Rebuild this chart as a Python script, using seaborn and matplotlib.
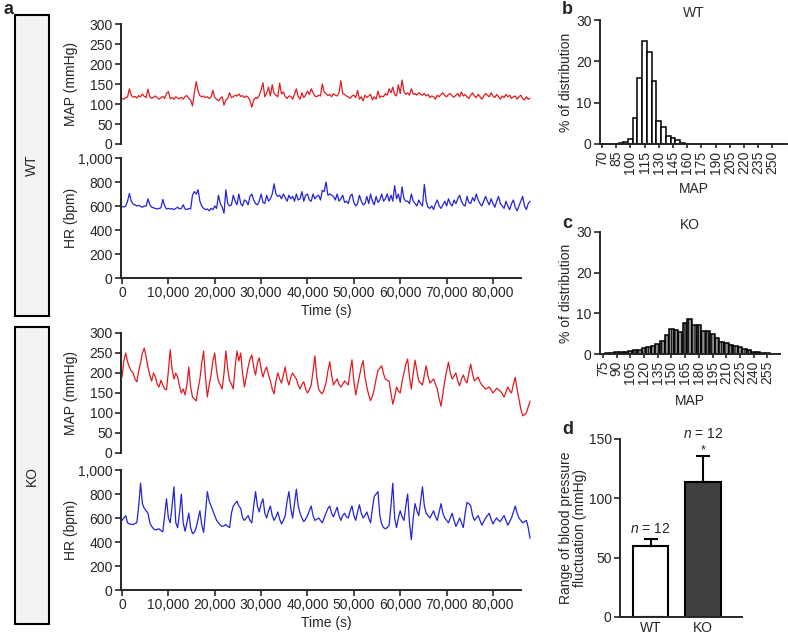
import numpy as np
import pandas as pd
import matplotlib
matplotlib.use('Agg')
import matplotlib.pyplot as plt
import seaborn as sns
from matplotlib.patches import Rectangle

# ---- data ----
# telemetry traces, one sample every ~400 s over 24 h
wt_map = [113, 112, 116, 118, 138, 122, 117, 119, 115, 121, 118, 125, 119, 116, 137, 118, 114, 117, 120, 116,
          112, 115, 119, 114, 126, 131, 113, 116, 112, 118, 115, 113, 117, 112, 119, 121, 114, 110, 95, 128,
          156, 132, 121, 118, 120, 116, 118, 114, 117, 134, 116, 112, 108, 114, 118, 97, 110, 114, 128, 116,
          118, 122, 120, 125, 119, 121, 116, 120, 117, 108, 92, 110, 116, 114, 122, 135, 153, 118, 128, 142,
          120, 148, 126, 122, 118, 152, 125, 130, 118, 114, 120, 119, 112, 124, 138, 118, 112, 128, 116, 122,
          132, 124, 138, 128, 120, 118, 122, 120, 150, 130, 126, 121, 124, 118, 126, 122, 120, 128, 158, 126,
          124, 120, 118, 114, 120, 122, 116, 134, 112, 118, 108, 122, 116, 120, 124, 110, 118, 112, 132, 116,
          120, 118, 126, 122, 138, 128, 142, 124, 120, 148, 126, 160, 132, 124, 128, 122, 138, 124, 126, 122,
          128, 124, 122, 126, 120, 124, 116, 120, 118, 112, 122, 118, 124, 128, 121, 118, 124, 126, 120, 117,
          122, 126, 118, 130, 120, 124, 118, 114, 122, 128, 120, 116, 124, 118, 112, 120, 126, 122, 118, 128,
          120, 116, 124, 118, 112, 120, 116, 124, 118, 122, 114, 118, 120, 112, 118, 122, 114, 110, 118, 112, 115]
wt_hr = [595, 592, 600, 640, 705, 640, 615, 610, 600, 605, 598, 590, 600, 598, 660, 610, 590, 585, 580, 575,
         580, 585, 655, 600, 575, 580, 575, 578, 570, 580, 590, 575, 580, 610, 575, 570, 580, 575, 690, 720,
         700, 735, 640, 600, 580, 570, 575, 560, 580, 570, 600, 580, 690, 620, 590, 540, 735, 620, 600, 610,
         690, 640, 610, 700, 620, 600, 650, 640, 610, 680, 700, 650, 620, 610, 640, 700, 630, 620, 690, 640,
         660, 700, 785, 700, 680, 690, 660, 700, 670, 640, 690, 660, 680, 640, 700, 650, 660, 720, 640, 690,
         700, 650, 640, 700, 660, 680, 690, 650, 730, 720, 800, 690, 700, 690, 680, 650, 700, 640, 660, 690,
         630, 640, 620, 680, 700, 630, 600, 620, 690, 640, 610, 620, 680, 620, 700, 640, 610, 680, 630, 650,
         700, 640, 660, 700, 640, 690, 640, 770, 660, 700, 630, 760, 660, 640, 640, 620, 700, 640, 620, 600,
         650, 620, 600, 780, 640, 590, 580, 600, 570, 620, 650, 600, 580, 610, 640, 600, 660, 620, 600, 650,
         620, 660, 690, 640, 610, 600, 680, 630, 620, 670, 640, 700, 650, 620, 600, 640, 680, 640, 610, 660,
         620, 590, 640, 680, 620, 600, 580, 640, 600, 570, 620, 650, 590, 560, 600, 640, 680, 600, 570, 620, 640]
ko_map = [190, 230, 250, 228, 215, 205, 200, 185, 178, 205, 225, 250, 262, 240, 215, 195, 180, 200, 190, 172,
          165, 182, 170, 160, 158, 205, 258, 210, 185, 200, 190, 168, 150, 160, 145, 170, 215, 165, 140, 135,
          130, 160, 185, 225, 255, 190, 140, 170, 195, 230, 250, 205, 180, 170, 160, 200, 255, 210, 180, 172,
          160, 215, 255, 230, 250, 200, 165, 190, 215, 235, 245, 215, 195, 225, 238, 210, 190, 205, 215, 195,
          180, 160, 148, 180, 200, 185, 175, 195, 215, 185, 170, 190, 200, 192, 185, 170, 160, 172, 178, 160,
          150, 158, 170, 205, 243, 190, 160, 152, 148, 160, 175, 205, 228, 195, 170, 178, 185, 172, 165, 172,
          180, 175, 170, 205, 233, 180, 145, 168, 190, 215, 231, 190, 165, 145, 131, 142, 160, 185, 206, 212,
          218, 198, 185, 182, 180, 150, 122, 140, 165, 155, 150, 178, 200, 222, 235, 190, 160, 200, 232, 205,
          180, 175, 170, 195, 218, 192, 175, 180, 185, 172, 160, 135, 117, 148, 180, 205, 227, 200, 185, 192,
          200, 180, 168, 185, 195, 182, 175, 200, 222, 198, 180, 185, 190, 178, 170, 165, 160, 162, 165, 158,
          150, 156, 162, 158, 155, 148, 140, 152, 165, 156, 150, 172, 189, 160, 135, 110, 93, 96, 100, 115, 130]
ko_hr = [580, 600, 620, 560, 550, 548, 545, 555, 560, 700, 890, 720, 680, 660, 640, 560, 530, 510, 500, 505,
         510, 495, 485, 620, 760, 600, 560, 700, 860, 560, 520, 640, 800, 560, 490, 560, 640, 520, 470, 480,
         520, 590, 660, 540, 480, 640, 820, 740, 700, 660, 620, 580, 560, 540, 530, 535, 545, 530, 520, 640,
         700, 720, 740, 700, 680, 600, 580, 600, 620, 580, 560, 700, 820, 700, 650, 720, 760, 640, 600, 660,
         700, 620, 580, 610, 650, 590, 550, 580, 620, 740, 820, 680, 600, 720, 840, 700, 640, 600, 570, 590,
         620, 660, 700, 620, 580, 590, 600, 580, 560, 600, 640, 680, 700, 640, 610, 650, 690, 620, 580, 620,
         640, 610, 600, 660, 700, 620, 580, 650, 710, 640, 600, 620, 650, 600, 560, 680, 780, 800, 820, 620,
         550, 520, 510, 520, 540, 700, 890, 600, 520, 600, 660, 610, 580, 700, 800, 560, 420, 600, 720, 660,
         620, 740, 860, 700, 640, 620, 600, 630, 660, 610, 580, 650, 720, 640, 600, 580, 560, 600, 640, 580,
         530, 560, 600, 560, 520, 640, 730, 720, 700, 620, 580, 600, 620, 580, 540, 570, 600, 620, 640, 590,
         550, 580, 600, 580, 570, 600, 620, 580, 540, 570, 600, 650, 700, 640, 600, 580, 560, 570, 580, 520, 430]

# MAP distributions (% of readings per 5 mmHg bin)
wt_bins = [85, 90, 95, 100, 105, 110, 115, 120, 125, 130, 135, 140, 145, 150, 155]
wt_pct = [0.1, 0.3, 0.5, 1.1, 6.2, 15.9, 24.8, 22.2, 15.2, 5.6, 4.0, 2.0, 1.5, 1.0, 0.3]
ko_bins = [80, 85, 90, 95, 100, 105, 110, 115, 120, 125, 130, 135, 140, 145, 150, 155, 160, 165,
           170, 175, 180, 185, 190, 195, 200, 205, 210, 215, 220, 225, 230, 235, 240, 245, 250, 255]
ko_pct = [0.3, 0.2, 0.6, 0.4, 0.6, 0.7, 0.9, 1.1, 1.4, 1.6, 2.0, 2.5, 3.2, 4.6, 6.1, 5.8, 5.3, 7.6,
          8.7, 7.1, 7.1, 5.7, 5.6, 4.8, 4.0, 3.0, 2.6, 2.3, 2.0, 1.7, 1.3, 0.9, 0.5, 0.4, 0.3, 0.2]
wt_ticks = [70, 85, 100, 115, 130, 145, 160, 175, 190, 205, 220, 235, 250]
ko_ticks = [75, 90, 105, 120, 135, 150, 165, 180, 195, 210, 225, 240, 255]

# range of BP fluctuation
groups = ['WT', 'KO']
range_mean = [60, 114]
range_sem = [6, 22]
n_labels = ['$n$ = 12', '$n$ = 12']

time_ticks = [0, 10000, 20000, 30000, 40000, 50000, 60000, 70000, 80000]
time_labels = ['0', '10,000', '20,000', '30,000', '40,000', '50,000', '60,000', '70,000', '80,000']
map_ticks = [0, 50, 100, 150, 200, 250, 300]
hr_ticks = [0, 200, 400, 600, 800, 1000]
hr_labels = ['0', '200', '400', '600', '800', '1,000']

RED = '#e01b1f'
BLUE = '#2323dc'

sns.set_style('ticks')
plt.rcParams['font.family'] = ['Liberation Sans', 'DejaVu Sans']
plt.rcParams['mathtext.fontset'] = 'custom'
plt.rcParams['mathtext.rm'] = 'Liberation Sans'
plt.rcParams['mathtext.it'] = 'Liberation Sans:italic'
plt.rcParams['hatch.linewidth'] = 0.7
FS = 10

W, H = 788, 636
fig = plt.figure(figsize=(W / 100, H / 100), dpi=100)


def add_ax(l, t, r, b):
    return fig.add_axes([l / W, 1 - b / H, (r - l) / W, (b - t) / H])


def style(ax):
    sns.despine(ax=ax)
    for s in ['left', 'bottom']:
        ax.spines[s].set_linewidth(1.4)
    ax.tick_params(direction='out', length=4, width=1.2, labelsize=FS, pad=2)


def trace(ax, vals, color, ticks, ylabel, ticklabels=None, xaxis=False):
    t = np.linspace(0, 88000, len(vals))
    sns.lineplot(x=t, y=vals, ax=ax, color=color, linewidth=0.9, estimator=None)
    style(ax)
    ax.set_xlim(-215, 88200)
    ax.set_ylim(ticks[0], ticks[-1])
    ax.set_yticks(ticks)
    if ticklabels:
        ax.set_yticklabels(ticklabels)
    ax.set_ylabel(ylabel, fontsize=FS)
    ax.yaxis.set_label_coords(-0.105, 0.5)
    if xaxis:
        ax.spines['bottom'].set_bounds(-215, 86000)
        ax.set_xticks(time_ticks)
        ax.set_xticklabels(time_labels)
        ax.set_xlabel('Time (s)', fontsize=FS, labelpad=3)
    else:
        ax.spines['bottom'].set_visible(False)
        ax.tick_params(bottom=False, labelbottom=False)
        ax.set_xlabel('')


# ---- panel a ----
trace(add_ax(121, 24, 531, 144), wt_map, RED, map_ticks, 'MAP (mmHg)')
trace(add_ax(121, 158, 531, 278), wt_hr, BLUE, hr_ticks, 'HR (bpm)', hr_labels, xaxis=True)
trace(add_ax(121, 333, 531, 453), ko_map, RED, map_ticks, 'MAP (mmHg)')
trace(add_ax(121, 470, 531, 590), ko_hr, BLUE, hr_ticks, 'HR (bpm)', hr_labels, xaxis=True)

for (top, bot, name) in [(15, 316, 'WT'), (327, 624, 'KO')]:
    fig.add_artist(Rectangle((15 / W, 1 - bot / H), 34 / W, (bot - top) / H, transform=fig.transFigure,
                             facecolor='#f3f3f3', edgecolor='black', linewidth=1.5))
    fig.text(32 / W, 1 - (top + bot) / 2 / H, name, rotation=90, ha='center', va='center', fontsize=FS)


# ---- panels b, c ----
def hist(ax, bins, pct, ticks, xlim, title, face, hatch=None):
    sns.histplot(x=bins, weights=pct, binwidth=5, binrange=(bins[0] - 2.5, bins[-1] + 2.5),
                 color=face, edgecolor='black', linewidth=1.1, alpha=1, ax=ax)
    if hatch:
        for p in ax.patches:
            p.set_hatch(hatch)
    style(ax)
    ax.set_xlim(*xlim)
    ax.set_ylim(0, 30)
    ax.set_yticks([0, 10, 20, 30])
    ax.set_xticks(ticks)
    ax.set_xticklabels([str(v) for v in ticks], rotation=90)
    ax.tick_params(axis='x', length=3)
    ax.set_title(title, fontsize=FS, pad=2)
    ax.set_ylabel('% of distribution', fontsize=FS)
    ax.set_xlabel('MAP', fontsize=FS)
    return ax


axb = hist(add_ax(600, 20, 787, 144), wt_bins, wt_pct, wt_ticks, (67.9, 265.4), 'WT', 'white')
axb.yaxis.set_label_coords(-0.145, 0.5)
axb.xaxis.set_label_coords(0.5, -0.31)
axc = hist(add_ax(600, 232, 780, 354), ko_bins, ko_pct, ko_ticks, (71.7, 268.9), 'KO', '#8c8c8c', '|||||')
axc.yaxis.set_label_coords(-0.15, 0.5)
axc.xaxis.set_label_coords(0.5, -0.33)

# ---- panel d ----
axd = add_ax(620, 439, 742, 617)
df = pd.DataFrame({'group': groups, 'range': range_mean})
sns.barplot(data=df, x='group', y='range', hue='group', palette=['white', '#404040'], order=groups,
            edgecolor='black', linewidth=1.5, width=0.68, errorbar=None, legend=False, ax=axd)
axd.errorbar(range(len(groups)), range_mean, yerr=[[0] * len(groups), range_sem], fmt='none',
             ecolor='black', elinewidth=1.5, capsize=5, capthick=1.5)
for i, (m, s, lab) in enumerate(zip(range_mean, range_sem, n_labels)):
    top = m + s
    if i == 1:
        axd.text(i, top - 1, '*', ha='center', va='bottom', fontsize=9)
        axd.text(i, top + 12, lab, ha='center', va='bottom', fontsize=FS)
    else:
        axd.text(i, top + 2.5, lab, ha='center', va='bottom', fontsize=FS)
style(axd)
axd.set_xlim(-0.58, 1.74)
axd.set_ylim(0, 150)
axd.set_yticks([0, 50, 100, 150])
axd.tick_params(axis='x', length=0, pad=3)
axd.set_xlabel('')
axd.set_ylabel('Range of blood pressure\nfluctuation (mmHg)', fontsize=FS, linespacing=1.0)
axd.yaxis.set_label_coords(-0.27, 0.5)

# panel letters
for x, y, s in [(3, 10, 'a'), (562, 10, 'b'), (562, 224, 'c'), (562, 430, 'd')]:
    fig.text(x / W, 1 - y / H, s, fontsize=13, fontweight='bold', ha='left', va='center')

fig.savefig('out.png', dpi=100)
